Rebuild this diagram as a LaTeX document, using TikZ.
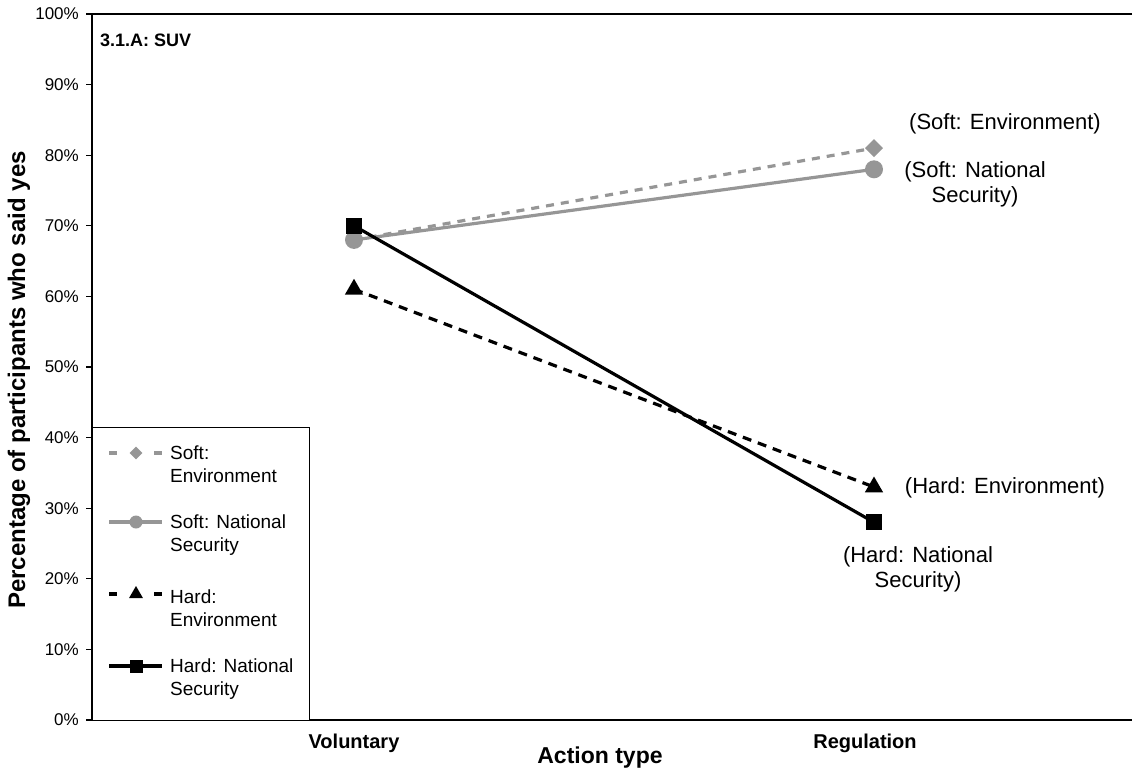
\documentclass[tikz,border=0pt]{standalone}
\usepackage{fontspec}
\setmainfont{Liberation Sans}
\usetikzlibrary{shapes.geometric}
\definecolor{sgray}{RGB}{150,150,150}
\tikzset{
  axisline/.style={line width=1.3pt, black},
  tickline/.style={line width=1.1pt, black},
  ticklbl/.style={anchor=east, inner sep=0, font=\fontsize{17}{20}\selectfont},
  catlbl/.style={inner sep=0, font=\bfseries\fontsize{20}{23}\selectfont},
  axtitle/.style={inner sep=0, font=\bfseries\fontsize{23}{26}\selectfont},
  ptlbl/.style={inner sep=0, align=center, font=\fontsize{22}{25}\selectfont},
  legtext/.style={inner sep=0, align=left, anchor=west, font=\fontsize{19}{23}\selectfont},
  sedash/.style={sgray, line width=3.2pt, dash pattern=on 8pt off 7pt},
  snline/.style={sgray, line width=3.2pt},
  hedash/.style={black, line width=3.2pt, dash pattern=on 9pt off 7pt},
  hnline/.style={black, line width=3.2pt},
  mdia/.style={diamond, fill=sgray, inner sep=0, minimum width=18pt, minimum height=18pt},
  mcirc/.style={circle, fill=sgray, inner sep=0, minimum size=18pt},
  mtri/.style={regular polygon, regular polygon sides=3, fill=black, inner sep=0, minimum size=21pt},
  msq/.style={rectangle, fill=black, inner sep=0, minimum size=16pt},
  lmdia/.style={mdia, minimum width=13pt, minimum height=13pt},
  lmcirc/.style={mcirc, minimum size=13pt},
  lmtri/.style={mtri, minimum size=16pt},
  lmsq/.style={msq, minimum size=13pt}
}
\begin{document}
\begin{tikzpicture}[x=1pt, y=-1pt]
\useasboundingbox (0,0) rectangle (1133,769);

% axes
\coordinate (tl) at (92,14);
\coordinate (bl) at (92,720);
\coordinate (br) at (1132,720);
\coordinate (tr) at (1132,14);
\draw[axisline] (tr) -- (tl) -- (bl) -- (br);

% y ticks and labels
\foreach \k in {0,...,10}{
  \pgfmathsetmacro{\yy}{720-70.6*\k}
  \pgfmathtruncatemacro{\pc}{10*\k}
  \coordinate (tk\k) at (86,\yy);
  \coordinate (ta\k) at (92,\yy);
  \draw[tickline] (tk\k) -- (ta\k);
  \node[ticklbl] (tl\k) at (79,\yy) {\pc\%};
}

% titles
\node[inner sep=0, anchor=west, font=\bfseries\fontsize{18}{21}\selectfont] (title) at (100,40) {3.1.A: SUV};
\node[catlbl] (vol) at (354,743) {Voluntary};
\node[catlbl] (reg) at (865,743) {Regulation};
\node[axtitle] (xt) at (600,758) {Action type};
\node[axtitle, rotate=90, font=\bfseries\fontsize{24}{27}\selectfont] (yt) at (19,380) {Percentage of participants who said yes};

% data points
\coordinate (seV) at (354,239.9);
\coordinate (seR) at (874,148.1);
\coordinate (snV) at (354,239.9);
\coordinate (snR) at (874,169.3);
\coordinate (heV) at (354,289.3);
\coordinate (heR) at (874,487.0);
\coordinate (hnV) at (354,225.8);
\coordinate (hnR) at (874,522.3);

% series
\draw[sedash] (seV) -- (seR);
\node[mdia] (mseV) at (seV) {};
\node[mdia] (mseR) at (seR) {};
\draw[snline] (snV) -- (snR);
\node[mcirc] (msnV) at (snV) {};
\node[mcirc] (msnR) at (snR) {};
\draw[hedash] (heV) -- (heR);
\node[mtri] (mheV) at (heV) {};
\node[mtri] (mheR) at (heR) {};
\draw[hnline] (hnV) -- (hnR);
\node[msq] (mhnV) at (hnV) {};
\node[msq] (mhnR) at (hnR) {};

% point labels
\node[ptlbl] (lse) at (1005,124) {(Soft: Environment)};
\node[ptlbl] (lsn) at (975,184.5) {(Soft: National\\Security)};
\node[ptlbl] (lhe) at (1005,488) {(Hard: Environment)};
\node[ptlbl] (lhn) at (918,569.5) {(Hard: National\\Security)};

% legend
\node[draw=black, line width=1pt, fill=white, anchor=north west, inner sep=0,
      minimum width=217pt, minimum height=293pt] (legend) at (92,427) {};
\coordinate (a1) at (109,453); \coordinate (b1) at (162,453);
\draw[sgray, line width=3.2pt, dash pattern=on 8pt off 37pt] (a1) -- (b1);
\node[lmdia] (lm1) at (136,453) {};
\node[legtext] (lt1) at (170,464.5) {Soft:\\Environment};

\coordinate (a2) at (109,522); \coordinate (b2) at (162,522);
\draw[sgray, line width=3.2pt] (a2) -- (b2);
\node[lmcirc] (lm2) at (136,522) {};
\node[legtext] (lt2) at (170,535.5) {Soft: National\\Security};

\coordinate (a3) at (109,594); \coordinate (b3) at (162,594);
\draw[black, line width=3.2pt, dash pattern=on 8pt off 37pt] (a3) -- (b3);
\node[lmtri] (lm3) at (136,594) {};
\node[legtext] (lt3) at (170,608.5) {Hard:\\Environment};

\coordinate (a4) at (109,666); \coordinate (b4) at (162,666);
\draw[black, line width=3.2pt] (a4) -- (b4);
\node[lmsq] (lm4) at (136,666) {};
\node[legtext] (lt4) at (170,679.5) {Hard: National\\Security};
\end{tikzpicture}
\end{document}
